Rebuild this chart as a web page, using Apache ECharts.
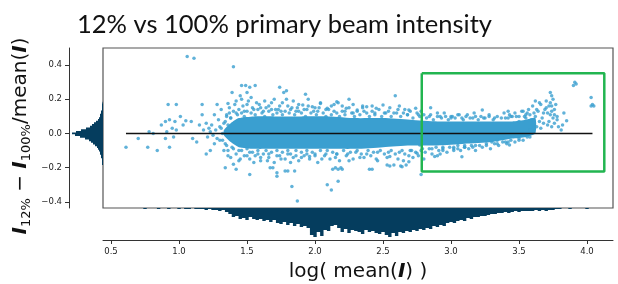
<!DOCTYPE html>
<html>
<head>
<meta charset="utf-8">
<title>12% vs 100% primary beam intensity</title>
<script src="https://cdn.jsdelivr.net/npm/echarts@6/dist/echarts.min.js"></script>
<style>
  html, body { margin: 0; padding: 0; background: #fff; }
  #chart { width: 618px; height: 284px; }
</style>
</head>
<body>
<div id="chart"></div>
<script>
// axis ticks
const xTicks = [0.5, 1.0, 1.5, 2.0, 2.5, 3.0, 3.5, 4.0];
const yTicks = [-0.4, -0.2, 0.0, 0.2, 0.4];

// outlying points (log mean I, relative difference)
const sx = [
  0.61, 0.70, 0.77, 0.78, 0.81, 0.84, 0.87, 0.90, 0.93, 0.97, 1.01, 0.95, 0.98, 0.91, 0.96, 0.90, 0.93, 0.92, 0.98, 1.06,
  1.11, 1.05, 1.09, 1.03, 1.17, 1.17, 1.15, 1.10, 1.13, 1.20, 1.22, 1.23, 1.21, 1.25, 1.20, 1.23, 1.26, 1.29, 1.28, 1.31,
  1.30, 1.32, 1.30, 1.26, 1.34, 1.40, 1.36, 1.39, 1.45, 1.50, 1.42, 1.52, 1.40, 1.27, 1.33, 1.34, 1.35, 1.28, 1.24, 1.18,
  1.33, 1.36, 1.37,
  1.46, 1.49, 1.52, 1.56, 1.74, 1.77, 1.79, 1.93, 2.04, 2.17, 2.25, 2.59, 1.91, 1.98, 2.04, 2.09, 2.16, 2.23, 2.31, 2.38,
  2.45, 2.50, 2.69, 2.74, 2.85, 2.96, 3.01, 3.23,
  1.42, 1.46, 1.50, 1.53, 1.57, 1.60, 1.63, 1.66, 1.70, 1.73, 1.76, 1.80, 1.84, 1.87, 1.95, 2.00, 2.12, 2.20, 2.28, 2.35,
  2.42, 2.55, 2.62, 2.66, 2.78, 2.90, 3.05, 3.12, 3.18, 3.28,
  1.83, 1.87, 2.09, 2.12, 2.17, 2.17, 2.19, 2.15, 1.72, 1.67, 1.69, 1.78, 1.80, 2.42, 2.53, 2.58, 2.67, 1.72, 1.85, 2.13,
  2.20, 2.40, 2.55, 2.63, 2.78, 2.64, 2.69, 2.75, 2.77, 3.08, 3.05, 3.10, 3.16, 3.02, 2.90, 2.92, 2.94, 3.43, 3.30, 3.34,
  3.38, 3.40,
  1.96, 2.05, 2.15, 2.25, 2.33, 2.45, 2.55, 2.65, 2.72, 2.80, 2.88, 1.45, 1.50, 1.55, 1.60, 1.65, 1.75, 1.82, 1.90,
  3.91, 3.90, 3.92, 4.03, 4.03, 4.04, 4.05, 3.73, 3.74, 3.83, 3.85, 3.81, 3.82, 3.75, 3.74, 3.76, 3.73, 3.75, 3.72, 3.76,
  3.62, 3.65, 3.63, 3.61, 3.58, 3.53, 3.54, 3.56, 3.55, 3.42, 3.43, 3.44, 3.70, 3.68, 3.78, 3.79, 3.66, 3.60, 3.50,
  1.42, 1.48, 1.55, 1.62, 1.68, 1.75, 1.82, 1.88, 1.94, 2.02, 2.08, 2.14, 2.22, 2.28, 2.36, 2.44, 2.52, 2.60, 2.68, 2.76,
  2.84, 2.92, 3.00, 3.08, 3.16, 3.24, 3.32, 3.40, 3.48,
  1.44, 1.52, 1.58, 1.66, 1.72, 1.80, 1.86, 1.94, 2.00, 2.08, 2.16, 2.24, 2.30, 2.38, 2.46, 2.54, 2.62, 2.70, 2.78, 2.86,
  2.94, 3.02, 3.10, 3.18, 3.26, 3.34, 3.42, 3.50, 3.58,
  1.31, 1.32, 1.34, 1.35, 1.36, 1.37, 1.38, 1.39
];
const sy = [
  -0.08, -0.03, -0.08, 0.01, 0.00, -0.10, 0.05, 0.07, 0.08, 0.07, 0.10, 0.03, 0.02, 0.01, -0.02, -0.03, -0.08, 0.17, 0.17, 0.45,
  0.44, 0.075, 0.07, 0.05, 0.11, 0.17, 0.05, -0.03, -0.05, 0.06, 0.03, 0.01, -0.02, -0.01, -0.12, -0.10, 0.11, 0.08, 0.17, 0.14,
  0.04, 0.00, -0.04, -0.06, -0.20, -0.18, 0.175, 0.24, 0.22, 0.24, -0.21, -0.24, 0.39, 0.02, 0.06, -0.06, 0.10, -0.03, 0.05, 0.02,
  -0.10, -0.13, 0.12,
  0.28, 0.28, 0.27, 0.28, 0.27, 0.24, 0.25, 0.23, 0.18, 0.18, 0.20, 0.22, 0.167, 0.157, 0.176, 0.147, 0.186, 0.147, 0.137, 0.157,
  0.147, 0.167, 0.137, 0.147, 0.15, 0.10, 0.10, 0.137,
  0.19, 0.20, 0.17, 0.21, 0.18, 0.15, 0.19, 0.16, 0.20, 0.14, 0.18, 0.16, 0.19, 0.15, 0.20, 0.15, 0.16, 0.16, 0.17, 0.15,
  0.16, 0.15, 0.16, 0.14, 0.13, 0.12, 0.11, 0.11, 0.10, 0.10,
  -0.31, -0.395, -0.30, -0.33, -0.28, -0.21, -0.20, -0.20, -0.25, -0.20, -0.20, -0.22, -0.22, -0.21, -0.185, -0.185, -0.185, -0.23, -0.22, -0.21,
  -0.21, -0.21, -0.19, -0.19, -0.24, -0.194, -0.165, -0.116, -0.067, -0.136, -0.09, -0.08, -0.08, -0.10, -0.13, -0.12, -0.10, -0.067, -0.05, -0.04,
  -0.03, -0.05,
  -0.135, -0.15, -0.14, -0.16, -0.14, -0.15, -0.135, -0.16, -0.14, -0.15, -0.135, -0.15, -0.13, -0.17, -0.14, -0.16, -0.15, -0.17, -0.14,
  0.30, 0.28, 0.29, 0.21, 0.16, 0.17, 0.16, 0.24, 0.22, 0.12, 0.075, 0.02, 0.05, 0.20, 0.16, 0.14, 0.11, 0.09, 0.07, 0.06,
  0.19, 0.18, 0.14, 0.12, 0.11, 0.13, 0.10, 0.12, 0.09, 0.13, 0.11, 0.10, 0.15, 0.12, 0.10, 0.04, 0.03, 0.05, 0.07,
  0.12, 0.13, 0.14, 0.13, 0.14, 0.13, 0.14, 0.13, 0.14, 0.13, 0.14, 0.13, 0.13, 0.12, 0.13, 0.12, 0.12, 0.12, 0.11, 0.11,
  0.10, 0.10, 0.09, 0.09, 0.09, 0.09, 0.09, 0.09, 0.10,
  -0.10, -0.11, -0.12, -0.12, -0.13, -0.12, -0.13, -0.12, -0.13, -0.12, -0.12, -0.12, -0.11, -0.12, -0.11, -0.11, -0.11, -0.10, -0.10, -0.09,
  -0.09, -0.08, -0.07, -0.07, -0.07, -0.06, -0.05, -0.04, -0.02,
  0.03, -0.04, 0.07, -0.07, 0.05, -0.02, 0.09, -0.08
];

// points along the fuzzy edge of the dense core
const fx = [
  1.35, 1.37, 1.38, 1.40, 1.41, 1.43, 1.44, 1.46, 1.47, 1.48, 1.50, 1.51, 1.53, 1.54, 1.56, 1.58, 1.59, 1.61, 1.63, 1.64,
  1.66, 1.68, 1.69, 1.71, 1.72, 1.74, 1.76, 1.78, 1.79, 1.81, 1.83, 1.85, 1.86, 1.88, 1.90, 1.92, 1.93, 1.95, 1.97, 1.99,
  2.01, 2.03,
  2.06, 2.08, 2.10, 2.12, 2.14, 2.16, 2.18, 2.20, 2.22, 2.25, 2.27, 2.29, 2.31, 2.33, 2.35, 2.38, 2.40, 2.42, 2.44, 2.47,
  2.49, 2.51, 2.54, 2.56, 2.58, 2.61, 2.63, 2.65, 2.68, 2.70, 2.72, 2.75, 2.77, 2.80,
  2.82, 2.85, 2.87, 2.90, 2.93, 2.95, 2.98, 3.00, 3.03, 3.06, 3.09, 3.11, 3.14, 3.17, 3.20, 3.22, 3.25, 3.28, 3.31, 3.34,
  3.37, 3.39, 3.42, 3.45, 3.47, 3.50, 3.52, 3.55,
  3.57, 3.59, 3.60, 3.62, 3.64, 3.66, 3.67, 3.69, 3.70, 3.71, 3.72, 3.73, 3.74, 3.76, 3.77, 3.78, 3.71, 3.74, 3.68, 3.63,
  3.58, 3.61, 3.65,
  1.36, 1.38, 1.40, 1.42, 1.44, 1.46, 1.48, 1.50, 1.52, 1.54, 1.56, 1.58, 1.60, 1.62, 1.64, 1.66, 1.68, 1.70, 1.72, 1.74,
  1.76, 1.78, 1.80, 1.82, 1.84, 1.86, 1.88, 1.90, 1.92, 1.94, 1.96, 1.98, 2.00, 2.02, 2.04,
  2.07, 2.09, 2.11, 2.13, 2.16, 2.18, 2.21, 2.23, 2.26, 2.28, 2.31, 2.34, 2.36, 2.39, 2.41, 2.43, 2.46, 2.48, 2.51, 2.53,
  2.56, 2.59, 2.61, 2.64, 2.66, 2.69, 2.71, 2.74, 2.76, 2.79,
  2.81, 2.84, 2.86, 2.89, 2.91, 2.94, 2.97, 2.99, 3.02, 3.05, 3.07, 3.10, 3.13, 3.15, 3.18, 3.21, 3.23, 3.26, 3.29, 3.32,
  3.35, 3.38, 3.41, 3.44, 3.47, 3.50, 3.53, 3.56
];
const fy = [
  0.11, 0.15, 0.09, 0.13, 0.17, 0.11, 0.14, 0.12, 0.16, 0.10, 0.13, 0.19, 0.12, 0.15, 0.11, 0.14, 0.17, 0.12, 0.10, 0.15,
  0.13, 0.18, 0.11, 0.14, 0.12, 0.16, 0.11, 0.13, 0.20, 0.12, 0.15, 0.11, 0.13, 0.17, 0.12, 0.14, 0.10, 0.16, 0.12, 0.13,
  0.11, 0.15,
  0.12, 0.10, 0.14, 0.11, 0.17, 0.12, 0.10, 0.13, 0.11, 0.15, 0.12, 0.10, 0.13, 0.11, 0.16, 0.12, 0.10, 0.13, 0.11, 0.14,
  0.10, 0.12, 0.13, 0.10, 0.12, 0.14, 0.10, 0.12, 0.11, 0.13, 0.09, 0.12, 0.10, 0.11,
  0.09, 0.11, 0.08, 0.10, 0.09, 0.12, 0.08, 0.10, 0.09, 0.11, 0.08, 0.10, 0.09, 0.12, 0.08, 0.10, 0.09, 0.11, 0.08, 0.10,
  0.09, 0.12, 0.09, 0.10, 0.12, 0.10, 0.13, 0.11,
  0.14, 0.08, 0.16, 0.10, 0.13, 0.17, 0.09, 0.14, 0.19, 0.12, 0.16, 0.18, 0.13, 0.11, 0.17, 0.08, 0.05, 0.04, 0.06, 0.04,
  0.02, 0.03, 0.07,
  -0.10, -0.14, -0.09, -0.12, -0.16, -0.10, -0.13, -0.09, -0.15, -0.11, -0.13, -0.10, -0.16, -0.12, -0.10, -0.14, -0.11, -0.17, -0.10, -0.13,
  -0.11, -0.15, -0.10, -0.12, -0.14, -0.10, -0.16, -0.11, -0.13, -0.10, -0.15, -0.11, -0.12, -0.17, -0.10,
  -0.13, -0.10, -0.15, -0.11, -0.12, -0.16, -0.10, -0.13, -0.11, -0.15, -0.10, -0.12, -0.14, -0.10, -0.13, -0.11, -0.16, -0.10, -0.12, -0.14,
  -0.10, -0.12, -0.15, -0.10, -0.12, -0.13, -0.10, -0.11, -0.13, -0.09,
  -0.11, -0.09, -0.12, -0.08, -0.10, -0.08, -0.11, -0.08, -0.09, -0.07, -0.10, -0.08, -0.09, -0.07, -0.10, -0.07, -0.08, -0.06, -0.09, -0.06,
  -0.07, -0.05, -0.06, -0.04, -0.05, -0.03, -0.04, -0.02
];

// solid core of the point cloud: lower / upper envelope
const bandX  = [1.33, 1.38, 1.44, 1.55, 1.70, 1.90, 2.10, 2.30, 2.50, 2.70, 2.90, 3.10, 3.30, 3.45, 3.55, 3.62];
const bandLo = [-0.01, -0.05, -0.08, -0.09, -0.09, -0.09, -0.09, -0.09, -0.08, -0.07, -0.07, -0.06, -0.05, -0.03, -0.02, 0.00];
const bandHi = [0.02, 0.06, 0.09, 0.10, 0.10, 0.10, 0.10, 0.09, 0.09, 0.08, 0.07, 0.07, 0.07, 0.07, 0.08, 0.09];

// zero reference line and highlighted region
const zeroX = [0.61, 4.04];
const boxX = [2.785, 4.127, 4.127, 2.785, 2.785];
const boxY = [0.352, 0.352, -0.223, -0.223, 0.352];

// marginal histogram of log mean(I), bins of 0.025 starting at 0.5875
const histXStart = 0.5875;
const histXStep = 0.025;
const histXCounts = [
  0, 0, 0, 0, 0, 0, 1, 0, 0, 0, 1, 0, 0, 1, 0, 0,
  1, 0, 1, 1, 0, 1, 1, 1,
  2, 1, 2, 2, 3, 2, 4, 6,
  9, 8, 11, 10, 12, 9, 11, 12,
  11, 13, 12, 14, 12, 15, 16, 14,
  17, 15, 18, 16, 19, 18, 20, 27,
  29, 24, 28, 22, 23, 18, 17, 20,
  24, 21, 25, 22, 23, 24, 26, 22,
  24, 23, 25, 26, 24, 27, 29, 25,
  28, 24, 25, 23, 24, 22, 23, 21,
  22, 20, 21, 18, 19, 17, 18, 15,
  14, 15, 13, 12, 13, 10, 11, 9,
  9, 8, 8, 7, 6, 6, 5, 5,
  4, 5, 4, 3, 4, 3, 3, 3,
  3, 2, 3, 2, 3, 2, 2, 1,
  1, 0, 0, 1, 0, 0, 0, 0,
  1, 0
];

// marginal histogram of the difference, bins of 0.01 starting at -0.205
const histYStart = -0.205;
const histYStep = 0.01;
const histYCounts = [
  0, 0, 1, 1, 1, 1, 2, 2, 3, 3, 4, 5, 6, 8, 10, 12, 14, 18, 23, 28,
  31, 27, 22, 17, 13, 11, 9, 7, 5, 4, 3, 3, 2, 2, 1, 1, 1, 1, 0.5, 0, 0
];

const dotColor = "#3a9fd0";
const histColor = "#053d5e";
const X_MIN = 0.441, X_MAX = 4.191;
const Y_MIN = -0.436, Y_MAX = 0.5;

const chart = echarts.init(document.getElementById("chart"));

const axisFont = { fontFamily: "DejaVu Sans", fontSize: 8.5, color: "#222" };
const fmt = (v) => v.toFixed(1).replace("-", "\u2212");

// step outline of a histogram, drawn once through the axis scales
function stepPolygon(api, start, step, counts, horizontal) {
  const pts = [];
  const pt = (edge, v) => api.coord(horizontal ? [v, edge] : [edge, v]);
  pts.push(pt(start, 0));
  counts.forEach((v, i) => {
    pts.push(pt(start + i * step, v));
    pts.push(pt(start + (i + 1) * step, v));
  });
  pts.push(pt(start + counts.length * step, 0));
  return pts;
}

const option = {
  animation: false,
  title: {
    text: "12% vs 100% primary beam intensity",
    left: 72,
    top: 7,
    textStyle: { fontFamily: "Lato", fontSize: 25.5, fontWeight: "normal", color: "#111" },
  },
  grid: [
    // main scatter
    { left: 103, top: 48, width: 510, height: 160, show: true, borderColor: "#555", borderWidth: 1.2, backgroundColor: "#fff" },
    // left histogram
    { left: 69, top: 48, width: 34, height: 160 },
    // bottom histogram
    { left: 103, top: 208, width: 510, height: 32 },
  ],
  xAxis: [
    { gridIndex: 0, type: "value", min: X_MIN, max: X_MAX, show: false },
    { gridIndex: 1, type: "value", min: 0, max: 34, inverse: true, show: false },
    {
      gridIndex: 2, type: "value", min: X_MIN, max: X_MAX, position: "bottom",
      axisLine: { show: true, onZero: false, lineStyle: { color: "#333", width: 1 } },
      axisTick: { show: true, length: 4, customValues: xTicks, lineStyle: { color: "#333" } },
      axisLabel: { customValues: xTicks, formatter: fmt, margin: 7, ...axisFont },
      splitLine: { show: false },
      name: "log( mean({b|I}) )",
      nameLocation: "middle",
      nameGap: 22,
      nameTextStyle: {
        fontFamily: "DejaVu Sans", fontSize: 20, color: "#111",
        rich: { b: { fontFamily: "DejaVu Sans", fontSize: 20, fontWeight: "bold", fontStyle: "italic", color: "#111" } },
      },
    },
  ],
  yAxis: [
    { gridIndex: 0, type: "value", min: Y_MIN, max: Y_MAX, show: false },
    {
      gridIndex: 1, type: "value", min: Y_MIN, max: Y_MAX, position: "left",
      axisLine: { show: true, onZero: false, lineStyle: { color: "#333", width: 1 } },
      axisTick: { show: true, length: 4, customValues: yTicks, lineStyle: { color: "#333" } },
      axisLabel: { customValues: yTicks, formatter: fmt, margin: 7, ...axisFont },
      splitLine: { show: false },
      name: "{b|I}{s|12%}{n| \u2212 }{b|I}{s|100%}{n|/mean(}{b|I}{n|)}",
      nameLocation: "middle",
      nameGap: 36,
      nameTextStyle: {
        padding: [0, 16, 0, 0],
        rich: {
          b: { fontFamily: "DejaVu Sans", fontSize: 20, fontWeight: "bold", fontStyle: "italic", color: "#111", lineHeight: 24 },
          s: { fontFamily: "DejaVu Sans", fontSize: 13, color: "#111", verticalAlign: "bottom", lineHeight: 14 },
          n: { fontFamily: "DejaVu Sans", fontSize: 20, color: "#111", lineHeight: 24 },
        },
      },
    },
    { gridIndex: 2, type: "value", min: 0, max: 32, inverse: true, show: false },
  ],
  series: [
    {
      name: "core",
      type: "custom",
      xAxisIndex: 0,
      yAxisIndex: 0,
      z: 1,
      data: bandX.map((x, i) => [x, bandLo[i], bandHi[i]]),
      renderItem: function (params, api) {
        if (params.dataIndex !== 0) return null;
        const pts = [];
        bandX.forEach((x, i) => pts.push(api.coord([x, bandHi[i]])));
        for (let i = bandX.length - 1; i >= 0; i--) pts.push(api.coord([bandX[i], bandLo[i]]));
        return { type: "polygon", shape: { points: pts, smooth: 0.2 }, style: { fill: dotColor } };
      },
    },
    {
      name: "edge points",
      type: "scatter",
      xAxisIndex: 0,
      yAxisIndex: 0,
      z: 2,
      symbolSize: 3.5,
      itemStyle: { color: dotColor },
      data: fx.map((x, i) => [x, fy[i]]),
    },
    {
      name: "points",
      type: "scatter",
      xAxisIndex: 0,
      yAxisIndex: 0,
      z: 2,
      symbolSize: 3.5,
      itemStyle: { color: dotColor },
      data: sx.map((x, i) => [x, sy[i]]),
    },
    {
      name: "zero",
      type: "line",
      xAxisIndex: 0,
      yAxisIndex: 0,
      z: 3,
      symbol: "none",
      lineStyle: { color: "#111", width: 1.5 },
      data: zeroX.map((x) => [x, 0]),
    },
    {
      name: "region",
      type: "line",
      xAxisIndex: 0,
      yAxisIndex: 0,
      z: 4,
      symbol: "none",
      lineStyle: { color: "#22b550", width: 2.5 },
      data: boxX.map((x, i) => [x, boxY[i]]),
    },
    {
      name: "histY",
      type: "custom",
      xAxisIndex: 1,
      yAxisIndex: 1,
      data: histYCounts.map((v, i) => [v, histYStart + (i + 0.5) * histYStep]),
      renderItem: function (params, api) {
        if (params.dataIndex !== 0) return null;
        return {
          type: "polygon",
          shape: { points: stepPolygon(api, histYStart, histYStep, histYCounts, true) },
          style: { fill: histColor },
        };
      },
    },
    {
      name: "histX",
      type: "custom",
      xAxisIndex: 2,
      yAxisIndex: 2,
      data: histXCounts.map((v, i) => [histXStart + (i + 0.5) * histXStep, v]),
      renderItem: function (params, api) {
        if (params.dataIndex !== 0) return null;
        return {
          type: "polygon",
          shape: { points: stepPolygon(api, histXStart, histXStep, histXCounts, false) },
          style: { fill: histColor },
        };
      },
    },
  ],
};

chart.setOption(option);
</script>
</body>
</html>
